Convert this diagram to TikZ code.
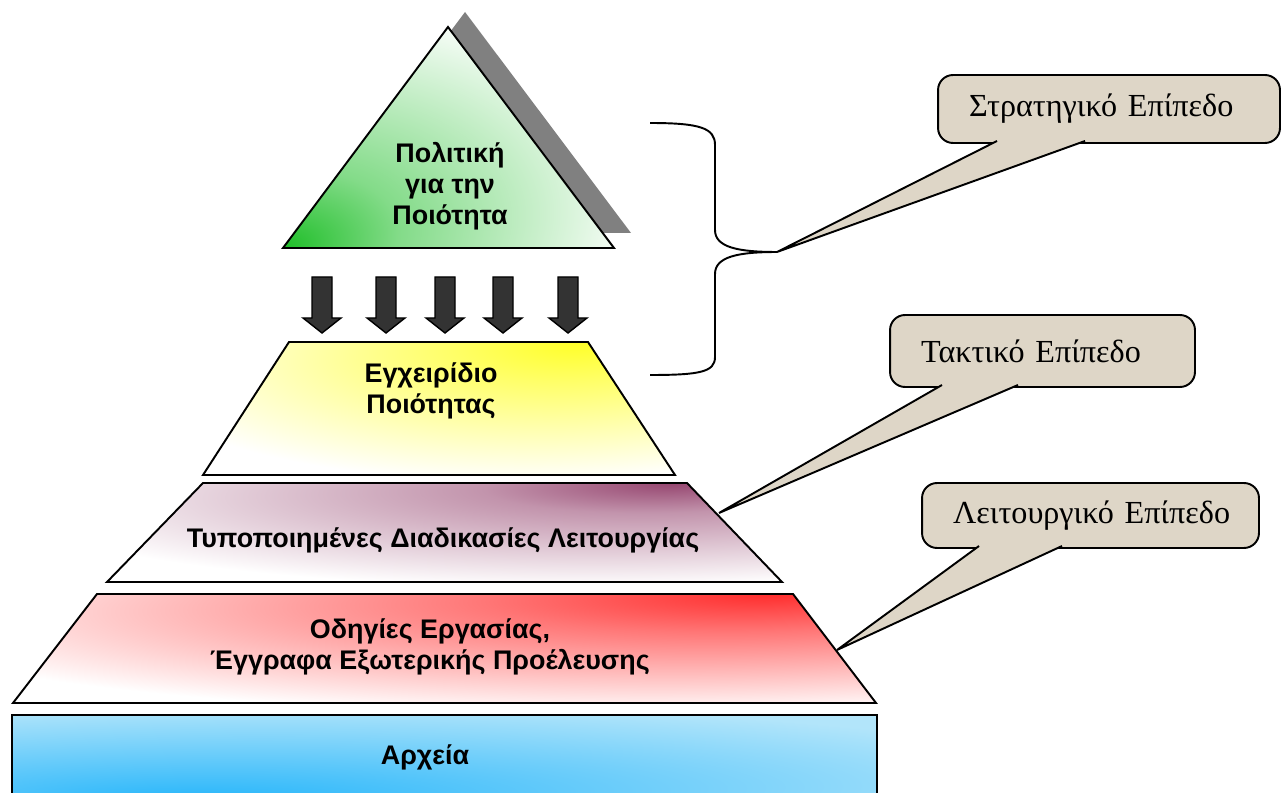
\documentclass[tikz,border=0pt]{standalone}
\usepackage{fontspec}
\setmainfont{Liberation Serif}
\newfontfamily\arialfont{Liberation Sans}
\usepackage{tikz}

\definecolor{policygreen}{RGB}{30,190,40}
\definecolor{manualyellow}{RGB}{255,255,40}
\definecolor{procpurple}{RGB}{150,70,112}
\definecolor{instrred}{RGB}{255,45,45}
\definecolor{recordblue}{RGB}{40,182,250}
\definecolor{recordlight}{RGB}{178,229,250}
\definecolor{shadowgray}{RGB}{128,128,128}
\definecolor{arrowgray}{RGB}{51,51,51}
\definecolor{bubblebeige}{RGB}{222,214,199}

% fades that start from a corner of each level
\pgfdeclareradialshading{policyfade}{\pgfpoint{-25bp}{-25bp}}{color(0bp)=(policygreen); color(14bp)=(policygreen!55!white); color(44bp)=(white); color(100bp)=(white)}
\pgfdeclareradialshading{manualfade}{\pgfpoint{15bp}{25bp}}{color(0bp)=(manualyellow); color(12bp)=(manualyellow!70!white); color(42bp)=(white); color(100bp)=(white)}
\pgfdeclareradialshading{procfade}{\pgfpoint{17bp}{25bp}}{color(0bp)=(procpurple); color(12bp)=(procpurple!58!white); color(42bp)=(white); color(100bp)=(white)}
\pgfdeclareradialshading{instrfade}{\pgfpoint{19bp}{25bp}}{color(0bp)=(instrred); color(14bp)=(instrred!65!white); color(44bp)=(white); color(100bp)=(white)}
\pgfdeclareradialshading{recordfade}{\pgfpoint{-15bp}{-25bp}}{color(0bp)=(recordblue); color(45bp)=(recordlight); color(100bp)=(recordlight)}

\tikzset{
  level/.style={draw=black, line width=1.1pt, line join=miter},
  levellabel/.style={font=\arialfont\bfseries\fontsize{15.3}{17.6}\selectfont, align=center},
  downarrow/.style={draw=black, fill=arrowgray, line width=0.8pt},
  bubble/.style={draw=black, fill=bubblebeige, line width=1.1pt, rounded corners=0.3cm,
    inner xsep=0.62cm, align=left, font=\fontsize{18.3}{21}\selectfont},
  pointer/.style={draw=black, fill=bubblebeige, line width=1.1pt, line join=miter}
}

\begin{document}
\begin{tikzpicture}[x=0.02cm, y=-0.02cm]
  \useasboundingbox (0,0) rectangle (1283,793);

  % top: the policy triangle and its shadow
  \fill[shadowgray] (465,12) -- (631,233) -- (300,233) -- cycle;
  \shadedraw[level, shading=policyfade] (448,27) -- (614,248) -- (283,248) -- cycle;
  \node[levellabel] (policy) at (450,186) {Πολιτική\\για την\\Ποιότητα};

  \foreach \x in {322,386,445,503,568}
    \draw[downarrow] (\x-10,277) -- (\x+10,277) -- (\x+10,318) -- (\x+19,318)
      -- (\x,333) -- (\x-19,318) -- (\x-10,318) -- cycle;

  % the levels below
  \shadedraw[level, shading=manualfade] (289,342) -- (588,342) -- (675,475) -- (203,475) -- cycle;
  \node[levellabel] (manual) at (431,391) {Εγχειρίδιο\\Ποιότητας};

  \shadedraw[level, shading=procfade] (203,483) -- (687,483) -- (782,582) -- (107,582) -- cycle;
  \node[levellabel] (procedures) at (443,540) {Τυποποιημένες Διαδικασίες Λειτουργίας};

  \shadedraw[level, shading=instrfade] (97,594) -- (793,594) -- (876,703) -- (13,703) -- cycle;
  \node[levellabel] (instructions) at (430,647) {Οδηγίες Εργασίας,\\Έγγραφα Εξωτερικής Προέλευσης};

  \shadedraw[level, shading=recordfade] (12,715) rectangle (877,800);
  \node[levellabel] (records) at (425,757) {Αρχεία};

  % brace over the two top levels
  \coordinate (bracetip) at (777,252);
  \draw[line width=1.1pt] (650,123) .. controls (700,123) and (715,128) .. (715,145)
    -- (715,230) .. controls (715,247) and (737,252) .. (bracetip)
    .. controls (737,252) and (715,257) .. (715,274)
    -- (715,357) .. controls (715,372) and (700,375) .. (650,375);

  \coordinate (proctip) at (719,513);
  \coordinate (instrtip) at (837,650);

  % callouts
  \node[bubble, text width=5.6cm, minimum height=1.36cm] (strategic) at (1109,109) {\mbox{Στρατηγικό Επίπεδο}};
  \filldraw[pointer] (997,141) -- (bracetip) -- (1085,141);

  \node[bubble, text width=4.86cm, minimum height=1.44cm] (tactical) at (1042.5,351) {\mbox{Τακτικό Επίπεδο}};
  \filldraw[pointer] (942,385) -- (proctip) -- (1018,385);

  \node[bubble, text width=5.5cm, minimum height=1.3cm] (operational) at (1090.5,515.5) {\mbox{Λειτουργικό Επίπεδο}};
  \filldraw[pointer] (979,546) -- (instrtip) -- (1062,546);
\end{tikzpicture}
\end{document}
